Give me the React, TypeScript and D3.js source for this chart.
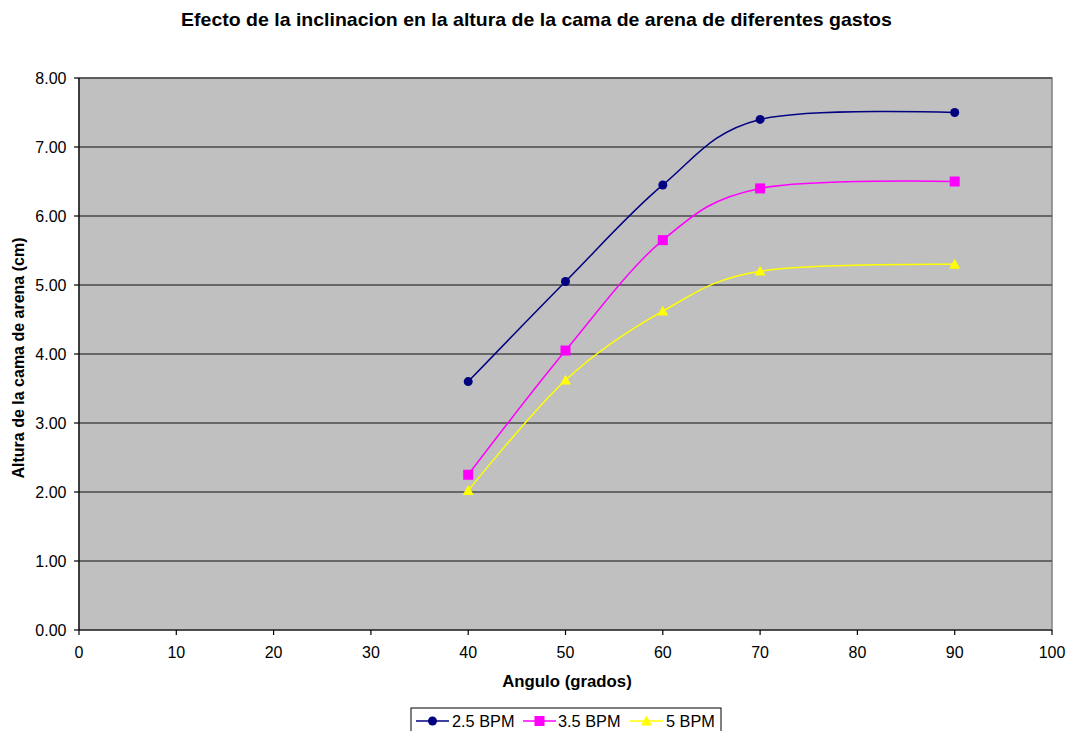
import React from "react";
import * as d3 from "d3";

const angles = [40, 50, 60, 70, 90];
const serie25 = [3.6, 5.05, 6.45, 7.4, 7.5];
const serie35 = [2.25, 4.05, 5.65, 6.4, 6.5];
const serie5 = [2.02, 3.62, 4.62, 5.2, 5.3];
const seriesNames = ["2.5 BPM", "3.5 BPM", "5 BPM"];
const seriesColors = ["#000080", "#ff00ff", "#ffff00"];
const markerTypes = ["circle", "square", "triangle"];
const xTicks = [0, 10, 20, 30, 40, 50, 60, 70, 80, 90, 100];
const yTicks = [0, 1, 2, 3, 4, 5, 6, 7, 8];

const W = 1069, H = 731;
const M = { left: 79, right: 1052, top: 78, bottom: 630 };

function Marker({ type, x, y, color }: { type: string; x: number; y: number; color: string }) {
  if (type === "circle") return <circle cx={x} cy={y} r={4.5} fill={color} />;
  if (type === "square") return <rect x={x - 5} y={y - 5} width={10} height={10} fill={color} />;
  const s = 5.5;
  return <path d={`M${x},${y - s}L${x + s},${y + s * 0.8}L${x - s},${y + s * 0.8}Z`} fill={color} />;
}

export default function App() {
  const x = d3.scaleLinear().domain([0, 100]).range([M.left, M.right]);
  const y = d3.scaleLinear().domain([0, 8]).range([M.bottom, M.top]);
  const data = [serie25, serie35, serie5];
  const line = d3
    .line<[number, number]>()
    .x((d) => x(d[0]))
    .y((d) => y(d[1]))
    .curve(d3.curveCatmullRom.alpha(0));
  const font = "Arial, 'Liberation Sans', sans-serif";
  const legendX = 411;
  const legendItems = [
    { lx: 416, tx: 452 },
    { lx: 523, tx: 558 },
    { lx: 630, tx: 666 },
  ];
  return (
    <svg width={W} height={H} style={{ position: "absolute", left: 0, top: 0, background: "#fff" }} fontFamily={font}>
      <text x={536.5} y={26.5} textAnchor="middle" fontSize={19.5} fontWeight="bold" transform="translate(536.5,26.5) scale(1,0.9) translate(-536.5,-26.5)">
        Efecto de la inclinacion en la altura de la cama de arena de diferentes gastos
      </text>
      <rect x={M.left} y={M.top} width={M.right - M.left} height={M.bottom - M.top} fill="#c0c0c0" stroke="#808080" strokeWidth={1.5} />
      {yTicks.filter((t) => t > 0).map((t) => (
        <line key={t} x1={M.left} x2={M.right} y1={y(t)} y2={y(t)} stroke="#4a4a4a" strokeWidth={1.5} />
      ))}
      <line x1={M.left} x2={M.left} y1={M.top} y2={M.bottom} stroke="#000" strokeWidth={1.2} />
      <line x1={M.left} x2={M.right} y1={M.bottom} y2={M.bottom} stroke="#000" strokeWidth={1.2} />
      {yTicks.map((t) => (
        <g key={t}>
          <line x1={M.left - 5} x2={M.left} y1={y(t)} y2={y(t)} stroke="#000" strokeWidth={1.2} />
          <text x={M.left - 12.5} y={y(t) + 5.5} textAnchor="end" fontSize={16}>
            {t.toFixed(2)}
          </text>
        </g>
      ))}
      {xTicks.map((t) => (
        <g key={t}>
          <line x1={x(t)} x2={x(t)} y1={M.bottom} y2={M.bottom + 5} stroke="#000" strokeWidth={1.2} />
          <text x={x(t)} y={M.bottom + 27.5} textAnchor="middle" fontSize={16}>
            {t}
          </text>
        </g>
      ))}
      <text x={567} y={687} textAnchor="middle" fontSize={16.8} fontWeight="bold">
        Angulo (grados)
      </text>
      <text transform={`translate(23.5,358) rotate(-90)`} textAnchor="middle" fontSize={16} fontWeight="bold">
        Altura de la cama de arena (cm)
      </text>
      {data.map((s, i) => {
        const pts: [number, number][] = angles.map((a, j) => [a, s[j]]);
        return (
          <g key={i}>
            <path d={line(pts) || ""} fill="none" stroke={seriesColors[i]} strokeWidth={1.5} />
            {pts.map((p, j) => (
              <Marker key={j} type={markerTypes[i]} x={x(p[0])} y={y(p[1])} color={seriesColors[i]} />
            ))}
          </g>
        );
      })}
      <rect x={legendX} y={708} width={310} height={30} fill="#fff" stroke="#000" strokeWidth={1} />
      {legendItems.map((it, i) => (
        <g key={i}>
          <line x1={it.lx} x2={it.lx + 33} y1={721} y2={721} stroke={seriesColors[i]} strokeWidth={1.5} />
          <Marker type={markerTypes[i]} x={it.lx + 16.5} y={721} color={seriesColors[i]} />
          <text x={it.tx} y={727} fontSize={16.3}>
            {seriesNames[i]}
          </text>
        </g>
      ))}
    </svg>
  );
}
